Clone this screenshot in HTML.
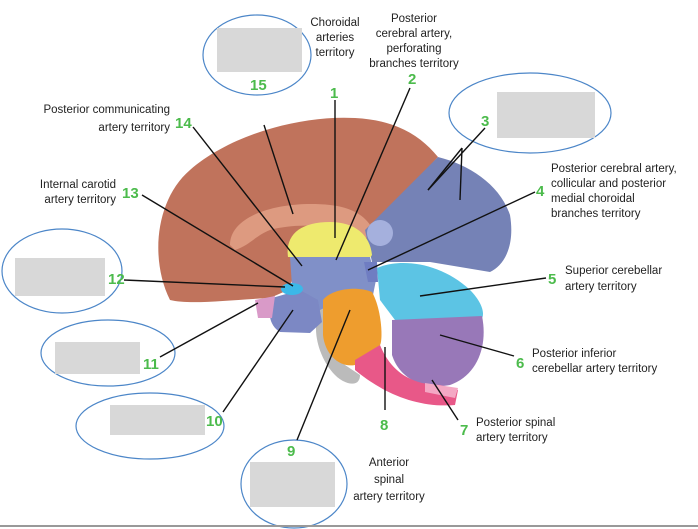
<!DOCTYPE html>
<html><head><meta charset="utf-8"><style>
html,body{margin:0;padding:0;background:#fff}
svg{display:block}
text{font-family:"Liberation Sans Narrow","Liberation Sans",sans-serif;font-size:11.5px;fill:#222}
.n{fill:#4cbb4c;font-weight:bold;font-size:15px;font-family:"Liberation Sans",sans-serif}
</style></head><body>
<svg width="698" height="529" viewBox="0 0 698 529" xmlns="http://www.w3.org/2000/svg">
<!-- cerebrum -->
<path d="M170,300 C150,260 155,200 190,170 C230,135 300,115 355,118 C395,120 420,135 438,157 L372,228 L365,262 L300,262 L288,290 L270,298 C230,300 190,305 170,300Z" fill="#c0735c"/>
<path d="M230,245 C230,215 280,200 330,205 C350,207 365,215 372,228 L365,240 C340,225 300,222 270,230 C255,236 250,245 235,250Z" fill="#dd9a80"/>
<!-- occipital blue -->
<path d="M438,157 C470,165 500,185 510,215 C515,245 505,265 490,272 L430,262 L372,262 L365,230 Z" fill="#7582b6"/>
<circle cx="380" cy="233" r="13" fill="#a5b0dd"/>
<!-- yellow -->
<path d="M288,257 C285,235 300,222 330,222 C355,222 370,235 372,255 L370,258 Z" fill="#eeea6e"/>
<!-- thalamus blue -->
<path d="M290,257 L370,257 L376,280 L372,300 L330,310 L305,318 L293,300 Z" fill="#8090c8"/>
<path d="M364,262 L377,262 L378,282 L368,282 Z" fill="#6f7dc2"/>
<!-- cyan cerebellum -->
<path d="M377,268 C400,258 440,262 470,290 C485,305 485,318 480,320 L395,320 L380,300 Z" fill="#5cc4e4"/>
<!-- purple -->
<path d="M392,320 L482,316 C488,345 478,375 450,385 C425,390 400,380 392,355 Z" fill="#9878b8"/>
<!-- grey brainstem edges -->
<path d="M320,310 C310,330 320,360 335,375 C345,385 360,388 360,375 L345,365 C330,345 328,330 330,305Z" fill="#bbb"/>
<!-- orange -->
<path d="M323,300 C330,290 355,285 372,292 C382,310 383,340 380,345 L355,365 C340,368 325,355 323,335 Z" fill="#ee9d2e"/>
<!-- pink -->
<path d="M355,360 L380,345 C390,370 410,385 440,385 L458,390 L455,405 C420,408 385,395 355,370 Z" fill="#e85888"/>
<path d="M425,383 L458,388 L455,398 L425,392Z" fill="#f4a8c4"/>
<!-- lower blue 10 -->
<path d="M272,298 L300,290 L318,300 L322,322 L310,333 L280,332 C268,325 268,310 272,298Z" fill="#7c88c4"/>
<!-- cyan 12 -->
<ellipse cx="292" cy="289" rx="11" ry="6" fill="#3cb8e8"/>
<!-- pink 11 -->
<path d="M255,300 L275,296 L272,318 L258,318Z" fill="#d99ac8"/>
<!-- ellipses -->
<g fill="none" stroke="#4c86c8" stroke-width="1.2">
<ellipse cx="257" cy="55" rx="54" ry="40"/>
<ellipse cx="530" cy="113" rx="81" ry="40"/>
<ellipse cx="62" cy="271" rx="60" ry="42"/>
<ellipse cx="108" cy="353" rx="67" ry="33"/>
<ellipse cx="150" cy="426" rx="74" ry="33"/>
<ellipse cx="294" cy="484" rx="53" ry="44"/>
</g>
<g fill="#d8d8d8">
<rect x="217" y="28" width="85" height="44"/>
<rect x="497" y="92" width="98" height="46"/>
<rect x="15" y="258" width="90" height="38"/>
<rect x="55" y="342" width="85" height="32"/>
<rect x="110" y="405" width="95" height="30"/>
<rect x="250" y="462" width="85" height="45"/>
</g>
<!-- leader lines -->
<g stroke="#111" stroke-width="1.4">
<line x1="264" y1="125" x2="293" y2="214"/>
<line x1="335" y1="100" x2="335" y2="238"/>
<line x1="410" y1="88" x2="336" y2="260"/>
<line x1="485" y1="128" x2="428" y2="190"/>
<line x1="462" y1="148" x2="460" y2="200"/>
<line x1="462" y1="148" x2="428" y2="190"/>
<line x1="535" y1="192" x2="368" y2="270"/>
<line x1="546" y1="278" x2="420" y2="296"/>
<line x1="514" y1="356" x2="440" y2="335"/>
<line x1="458" y1="420" x2="432" y2="380"/>
<line x1="385" y1="410" x2="385" y2="347"/>
<line x1="297" y1="440" x2="350" y2="310"/>
<line x1="223" y1="412" x2="293" y2="310"/>
<line x1="160" y1="357" x2="258" y2="303"/>
<line x1="124" y1="280" x2="285" y2="287"/>
<line x1="142" y1="195" x2="293" y2="286"/>
<line x1="193" y1="127" x2="302" y2="266"/>
</g>
<!-- numbers -->
<text class="n" x="330" y="98">1</text>
<text class="n" x="408" y="84">2</text>
<text class="n" x="481" y="126">3</text>
<text class="n" x="536" y="196">4</text>
<text class="n" x="548" y="284">5</text>
<text class="n" x="516" y="368">6</text>
<text class="n" x="460" y="435">7</text>
<text class="n" x="380" y="430">8</text>
<text class="n" x="287" y="456">9</text>
<text class="n" x="206" y="426">10</text>
<text class="n" x="143" y="369">11</text>
<text class="n" x="108" y="284">12</text>
<text class="n" x="122" y="198">13</text>
<text class="n" x="175" y="128">14</text>
<text class="n" x="250" y="90">15</text>
<!-- labels -->
<g text-anchor="middle">
<text x="335" y="26">Choroidal</text><text x="335" y="41">arteries</text><text x="335" y="56">territory</text>
<text x="414" y="22">Posterior</text><text x="414" y="37">cerebral artery,</text><text x="414" y="52">perforating</text><text x="414" y="67">branches territory</text>
<text x="389" y="466">Anterior</text><text x="389" y="483">spinal</text><text x="389" y="500">artery territory</text>
</g>
<text x="551" y="172">Posterior cerebral artery,</text>
<text x="551" y="187">collicular and posterior</text>
<text x="551" y="202">medial choroidal</text>
<text x="551" y="217">branches territory</text>
<text x="565" y="274">Superior cerebellar</text>
<text x="565" y="290">artery territory</text>
<text x="532" y="357">Posterior inferior</text>
<text x="532" y="372">cerebellar artery territory</text>
<text x="476" y="426">Posterior spinal</text>
<text x="476" y="441">artery territory</text>
<g text-anchor="end">
<text x="170" y="113">Posterior communicating</text>
<text x="170" y="131">artery territory</text>
<text x="116" y="188">Internal carotid</text>
<text x="116" y="203">artery territory</text>
</g>
<line x1="0" y1="526" x2="698" y2="526" stroke="#999" stroke-width="2"/>
</svg>
</body></html>
